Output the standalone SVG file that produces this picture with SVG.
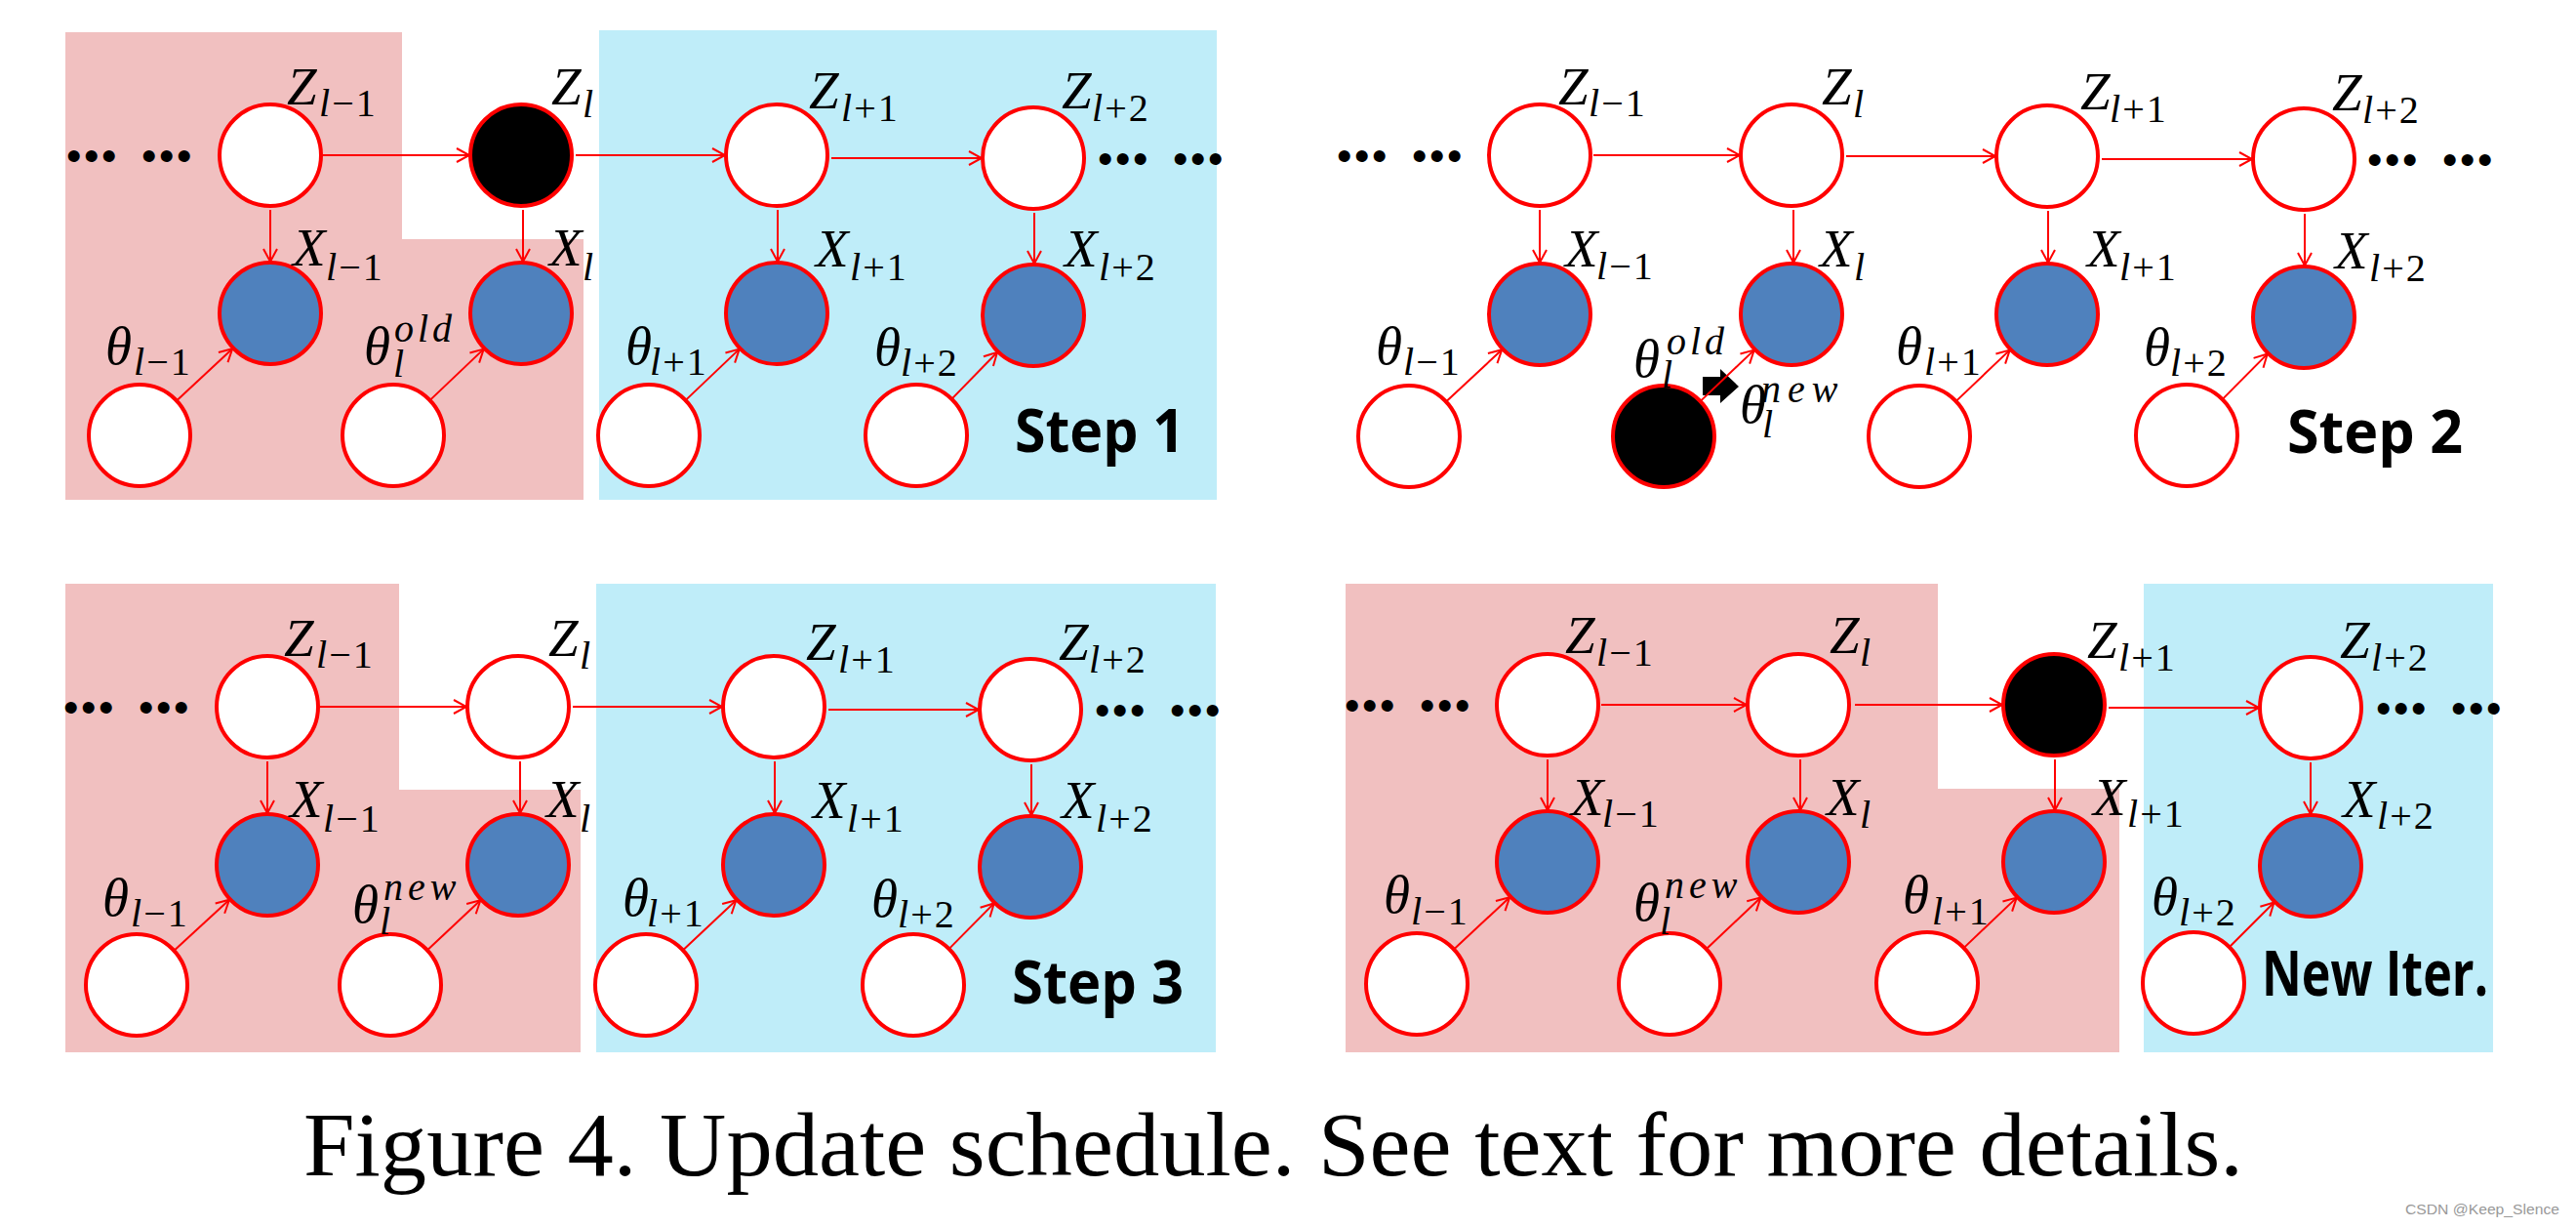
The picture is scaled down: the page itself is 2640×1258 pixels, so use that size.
<svg xmlns="http://www.w3.org/2000/svg" width="2640" height="1258" viewBox="0 0 2640 1258">
<style>
.rp{fill:#F1C0C0}.rc{fill:#BFEDF9}
.n{stroke:#FF0000;stroke-width:4}.w{fill:#FFFFFF}.k{fill:#000000}.b{fill:#4F81BD}
.m{font-family:"Liberation Serif",serif;font-style:italic;font-size:55px;fill:#000}
.s{font-size:40px;font-style:normal;letter-spacing:2px}
.i{font-style:italic}
.sp{font-size:40px;font-style:italic;letter-spacing:4px}
.dots{font-family:"Liberation Sans",sans-serif;font-size:44px;letter-spacing:2.6px;fill:#000}
.step{font-family:"Open Sans","Liberation Sans",sans-serif;font-weight:bold;font-size:60px;fill:#000}
.cap{font-family:"Liberation Serif",serif;font-size:94px;fill:#000}
.wm{font-family:"Liberation Sans",sans-serif;font-size:15px;fill:#999}
.e{stroke:#FF0000;stroke-width:2;fill:none;marker-end:url(#ah)}
</style>
<defs>
<marker id="ah" markerUnits="userSpaceOnUse" markerWidth="16" markerHeight="16" refX="14" refY="8" orient="auto" viewBox="0 0 16 16">
<path d="M1,1 L14,8 L1,15" fill="none" stroke="#FF0000" stroke-width="2"/>
</marker>
</defs>
<rect width="2640" height="1258" fill="#FFFFFF"/>

<g id="regions">
<polygon class="rp" points="67,33 412,33 412,245 598,245 598,512 67,512"/>
<rect class="rc" x="614" y="31" width="633" height="481"/>
<polygon class="rp" points="67,598 409,598 409,809 595,809 595,1078 67,1078"/>
<rect class="rc" x="611" y="598" width="635" height="480"/>
<polygon class="rp" points="1379,598 1986,598 1986,808 2172,808 2172,1078 1379,1078"/>
<rect class="rc" x="2197" y="598" width="358" height="480"/>
</g>

<!-- Panel A: Step 1 -->
<g id="A_Z1"><circle class="n w" cx="277" cy="159" r="52"/><text class="m" x="294" y="107">Z<tspan class="s" x="327" y="119"><tspan class="i">l</tspan>−1</tspan></text></g>
<g id="A_Z2"><circle class="n k" cx="534" cy="159" r="52"/><text class="m" x="565" y="107">Z<tspan class="s i" x="597" y="120">l</tspan></text></g>
<g id="A_Z3"><circle class="n w" cx="796" cy="159" r="52"/><text class="m" x="829" y="111">Z<tspan class="s" x="862" y="124"><tspan class="i">l</tspan>+1</tspan></text></g>
<g id="A_Z4"><circle class="n w" cx="1059" cy="162" r="52"/><text class="m" x="1088" y="111">Z<tspan class="s" x="1119" y="124"><tspan class="i">l</tspan>+2</tspan></text></g>
<g id="A_X1"><circle class="n b" cx="277" cy="321" r="52"/><text class="m" x="300" y="272">X<tspan class="s" x="334" y="287"><tspan class="i">l</tspan>−1</tspan></text></g>
<g id="A_X2"><circle class="n b" cx="534" cy="321" r="52"/><text class="m" x="563" y="272">X<tspan class="s i" x="597" y="287">l</tspan></text></g>
<g id="A_X3"><circle class="n b" cx="796" cy="321" r="52"/><text class="m" x="836" y="273">X<tspan class="s" x="871" y="287"><tspan class="i">l</tspan>+1</tspan></text></g>
<g id="A_X4"><circle class="n b" cx="1059" cy="323" r="52"/><text class="m" x="1091" y="273">X<tspan class="s" x="1126" y="287"><tspan class="i">l</tspan>+2</tspan></text></g>
<g id="A_T1"><circle class="n w" cx="143" cy="446" r="52"/><text class="m" x="108" y="373">θ<tspan class="s" x="137" y="384"><tspan class="i">l</tspan>−1</tspan></text></g>
<g id="A_T2"><circle class="n w" cx="403" cy="446" r="52"/><text class="m" x="373" y="373">θ<tspan class="sp" x="404" y="350">old</tspan><tspan class="s i" x="403" y="386">l</tspan></text></g>
<g id="A_T3"><circle class="n w" cx="665" cy="446" r="52"/><text class="m" x="641" y="373">θ<tspan class="s" x="666" y="384"><tspan class="i">l</tspan>+1</tspan></text></g>
<g id="A_T4"><circle class="n w" cx="939" cy="446" r="52"/><text class="m" x="896" y="374">θ<tspan class="s" x="923" y="385"><tspan class="i">l</tspan>+2</tspan></text></g>
<g id="A_misc">
<text class="dots" x="68" y="175">•••<tspan dx="23">•••</tspan></text>
<text class="dots" x="1125" y="178">•••<tspan dx="23">•••</tspan></text>
<text class="step" x="1040" y="463" textLength="174" lengthAdjust="spacingAndGlyphs">Step 1</text>
</g>

<!-- Panel B: Step 2 -->
<g id="B_Z1"><circle class="n w" cx="1578" cy="159" r="52"/><text class="m" x="1597" y="107">Z<tspan class="s" x="1628" y="119"><tspan class="i">l</tspan>−1</tspan></text></g>
<g id="B_Z2"><circle class="n w" cx="1836" cy="159" r="52"/><text class="m" x="1867" y="107">Z<tspan class="s i" x="1899" y="120">l</tspan></text></g>
<g id="B_Z3"><circle class="n w" cx="2098" cy="160" r="52"/><text class="m" x="2132" y="112">Z<tspan class="s" x="2162" y="125"><tspan class="i">l</tspan>+1</tspan></text></g>
<g id="B_Z4"><circle class="n w" cx="2361" cy="163" r="52"/><text class="m" x="2390" y="113">Z<tspan class="s" x="2421" y="126"><tspan class="i">l</tspan>+2</tspan></text></g>
<g id="B_X1"><circle class="n b" cx="1578" cy="322" r="52"/><text class="m" x="1604" y="273">X<tspan class="s" x="1636" y="286"><tspan class="i">l</tspan>−1</tspan></text></g>
<g id="B_X2"><circle class="n b" cx="1836" cy="322" r="52"/><text class="m" x="1865" y="273">X<tspan class="s i" x="1900" y="287">l</tspan></text></g>
<g id="B_X3"><circle class="n b" cx="2098" cy="322" r="52"/><text class="m" x="2139" y="273">X<tspan class="s" x="2172" y="287"><tspan class="i">l</tspan>+1</tspan></text></g>
<g id="B_X4"><circle class="n b" cx="2361" cy="325" r="52"/><text class="m" x="2393" y="275">X<tspan class="s" x="2428" y="288"><tspan class="i">l</tspan>+2</tspan></text></g>
<g id="B_T1"><circle class="n w" cx="1444" cy="447" r="52"/><text class="m" x="1410" y="373">θ<tspan class="s" x="1438" y="384"><tspan class="i">l</tspan>−1</tspan></text></g>
<g id="B_T2"><circle class="n k" cx="1705" cy="447" r="52"/>
<text class="m" x="1674" y="386">θ<tspan class="sp" x="1708" y="363">old</tspan><tspan class="s i" x="1703" y="397">l</tspan></text>
<text class="m" x="1783" y="433">θ<tspan class="sp" x="1805" y="412" style="letter-spacing:7px">new</tspan><tspan class="s i" x="1806" y="448">l</tspan></text></g>
<g id="B_T3"><circle class="n w" cx="1967" cy="447" r="52"/><text class="m" x="1943" y="373">θ<tspan class="s" x="1972" y="384"><tspan class="i">l</tspan>+1</tspan></text></g>
<g id="B_T4"><circle class="n w" cx="2241" cy="446" r="52"/><text class="m" x="2197" y="374">θ<tspan class="s" x="2224" y="385"><tspan class="i">l</tspan>+2</tspan></text></g>
<g id="B_misc">
<text class="dots" x="1370" y="175">•••<tspan dx="23">•••</tspan></text>
<text class="dots" x="2426" y="179">•••<tspan dx="23">•••</tspan></text>
<polygon points="1745,386 1763,386 1763,378 1782,396 1763,413 1763,405 1745,405" fill="#000"/>
<text class="step" x="2344" y="464" textLength="180" lengthAdjust="spacingAndGlyphs">Step 2</text>
</g>

<!-- Panel C: Step 3 -->
<g id="C_Z1"><circle class="n w" cx="274" cy="724" r="52"/><text class="m" x="291" y="672">Z<tspan class="s" x="324" y="684"><tspan class="i">l</tspan>−1</tspan></text></g>
<g id="C_Z2"><circle class="n w" cx="531" cy="724" r="52"/><text class="m" x="562" y="672">Z<tspan class="s i" x="594" y="685">l</tspan></text></g>
<g id="C_Z3"><circle class="n w" cx="793" cy="724" r="52"/><text class="m" x="826" y="676">Z<tspan class="s" x="859" y="689"><tspan class="i">l</tspan>+1</tspan></text></g>
<g id="C_Z4"><circle class="n w" cx="1056" cy="727" r="52"/><text class="m" x="1085" y="676">Z<tspan class="s" x="1116" y="689"><tspan class="i">l</tspan>+2</tspan></text></g>
<g id="C_X1"><circle class="n b" cx="274" cy="886" r="52"/><text class="m" x="297" y="837">X<tspan class="s" x="331" y="852"><tspan class="i">l</tspan>−1</tspan></text></g>
<g id="C_X2"><circle class="n b" cx="531" cy="886" r="52"/><text class="m" x="560" y="837">X<tspan class="s i" x="594" y="852">l</tspan></text></g>
<g id="C_X3"><circle class="n b" cx="793" cy="886" r="52"/><text class="m" x="833" y="838">X<tspan class="s" x="868" y="852"><tspan class="i">l</tspan>+1</tspan></text></g>
<g id="C_X4"><circle class="n b" cx="1056" cy="888" r="52"/><text class="m" x="1088" y="838">X<tspan class="s" x="1123" y="852"><tspan class="i">l</tspan>+2</tspan></text></g>
<g id="C_T1"><circle class="n w" cx="140" cy="1009" r="52"/><text class="m" x="105" y="938">θ<tspan class="s" x="134" y="949"><tspan class="i">l</tspan>−1</tspan></text></g>
<g id="C_T2"><circle class="n w" cx="400" cy="1009" r="52"/><text class="m" x="361" y="945">θ<tspan class="sp" x="393" y="922" style="letter-spacing:5px">new</tspan><tspan class="s i" x="389" y="957">l</tspan></text></g>
<g id="C_T3"><circle class="n w" cx="662" cy="1009" r="52"/><text class="m" x="638" y="938">θ<tspan class="s" x="663" y="949"><tspan class="i">l</tspan>+1</tspan></text></g>
<g id="C_T4"><circle class="n w" cx="936" cy="1009" r="52"/><text class="m" x="893" y="939">θ<tspan class="s" x="920" y="950"><tspan class="i">l</tspan>+2</tspan></text></g>
<g id="C_misc">
<text class="dots" x="65" y="740">•••<tspan dx="23">•••</tspan></text>
<text class="dots" x="1122" y="743">•••<tspan dx="23">•••</tspan></text>
<text class="step" x="1037" y="1028" textLength="176" lengthAdjust="spacingAndGlyphs">Step 3</text>
</g>

<!-- Panel D: New Iter. -->
<g id="D_Z1"><circle class="n w" cx="1586" cy="722" r="52"/><text class="m" x="1604" y="669">Z<tspan class="s" x="1636" y="682"><tspan class="i">l</tspan>−1</tspan></text></g>
<g id="D_Z2"><circle class="n w" cx="1843" cy="722" r="52"/><text class="m" x="1875" y="669">Z<tspan class="s i" x="1906" y="682">l</tspan></text></g>
<g id="D_Z3"><circle class="n k" cx="2105" cy="722" r="52"/><text class="m" x="2139" y="674">Z<tspan class="s" x="2171" y="687"><tspan class="i">l</tspan>+1</tspan></text></g>
<g id="D_Z4"><circle class="n w" cx="2368" cy="725" r="52"/><text class="m" x="2398" y="674">Z<tspan class="s" x="2430" y="687"><tspan class="i">l</tspan>+2</tspan></text></g>
<g id="D_X1"><circle class="n b" cx="1586" cy="883" r="52"/><text class="m" x="1610" y="835">X<tspan class="s" x="1642" y="847"><tspan class="i">l</tspan>−1</tspan></text></g>
<g id="D_X2"><circle class="n b" cx="1843" cy="883" r="52"/><text class="m" x="1872" y="835">X<tspan class="s i" x="1906" y="848">l</tspan></text></g>
<g id="D_X3"><circle class="n b" cx="2105" cy="883" r="52"/><text class="m" x="2145" y="835">X<tspan class="s" x="2180" y="847"><tspan class="i">l</tspan>+1</tspan></text></g>
<g id="D_X4"><circle class="n b" cx="2368" cy="887" r="52"/><text class="m" x="2401" y="837">X<tspan class="s" x="2436" y="849"><tspan class="i">l</tspan>+2</tspan></text></g>
<g id="D_T1"><circle class="n w" cx="1452" cy="1008" r="52"/><text class="m" x="1418" y="935">θ<tspan class="s" x="1446" y="947"><tspan class="i">l</tspan>−1</tspan></text></g>
<g id="D_T2"><circle class="n w" cx="1711" cy="1008" r="52"/><text class="m" x="1674" y="943">θ<tspan class="sp" x="1706" y="920" style="letter-spacing:5px">new</tspan><tspan class="s i" x="1701" y="957">l</tspan></text></g>
<g id="D_T3"><circle class="n w" cx="1975" cy="1007" r="52"/><text class="m" x="1950" y="935">θ<tspan class="s" x="1980" y="947"><tspan class="i">l</tspan>+1</tspan></text></g>
<g id="D_T4"><circle class="n w" cx="2248" cy="1007" r="52"/><text class="m" x="2205" y="937">θ<tspan class="s" x="2233" y="948"><tspan class="i">l</tspan>+2</tspan></text></g>
<g id="D_misc">
<text class="dots" x="1378" y="738">•••<tspan dx="23">•••</tspan></text>
<text class="dots" x="2435" y="741">•••<tspan dx="23">•••</tspan></text>
<text class="step" x="2318" y="1020" style="font-size:64px" textLength="232" lengthAdjust="spacingAndGlyphs">New Iter.</text>
</g>

<g id="connectors">
<line class="e" x1="331" y1="159" x2="481" y2="159"/>
<line class="e" x1="590" y1="159" x2="743" y2="159"/>
<line class="e" x1="852" y1="162" x2="1006" y2="162"/>
<line class="e" x1="277" y1="215" x2="277" y2="268"/>
<line class="e" x1="536" y1="215" x2="536" y2="268"/>
<line class="e" x1="797" y1="215" x2="797" y2="268"/>
<line class="e" x1="1060" y1="218" x2="1060" y2="270"/>
<line class="e" x1="181.8" y1="409.8" x2="238.2" y2="357.2"/>
<line class="e" x1="441.3" y1="409.4" x2="495.7" y2="357.6"/>
<line class="e" x1="703.3" y1="409.4" x2="757.7" y2="357.6"/>
<line class="e" x1="976" y1="408.1" x2="1022" y2="360.9"/>

<line class="e" x1="1633" y1="159" x2="1783" y2="159"/>
<line class="e" x1="1892" y1="160" x2="2045" y2="160"/>
<line class="e" x1="2154" y1="163" x2="2308" y2="163"/>
<line class="e" x1="1578" y1="215" x2="1578" y2="269"/>
<line class="e" x1="1838" y1="215" x2="1838" y2="269"/>
<line class="e" x1="2099" y1="216" x2="2099" y2="269"/>
<line class="e" x1="2362" y1="219" x2="2362" y2="272"/>
<line class="e" x1="1482.8" y1="410.8" x2="1539.2" y2="358.2"/>
<line class="e" x1="1743.3" y1="410.4" x2="1797.7" y2="358.6"/>
<line class="e" x1="2005.3" y1="410.4" x2="2059.7" y2="358.6"/>
<line class="e" x1="2278.3" y1="408.4" x2="2323.7" y2="362.6"/>

<line class="e" x1="328" y1="724" x2="478" y2="724"/>
<line class="e" x1="587" y1="724" x2="740" y2="724"/>
<line class="e" x1="849" y1="727" x2="1003" y2="727"/>
<line class="e" x1="274" y1="780" x2="274" y2="833"/>
<line class="e" x1="533" y1="780" x2="533" y2="833"/>
<line class="e" x1="794" y1="780" x2="794" y2="833"/>
<line class="e" x1="1057" y1="783" x2="1057" y2="835"/>
<line class="e" x1="179" y1="973.2" x2="235" y2="921.8"/>
<line class="e" x1="438.6" y1="972.7" x2="492.4" y2="922.3"/>
<line class="e" x1="700.6" y1="972.7" x2="754.4" y2="922.3"/>
<line class="e" x1="973.3" y1="971.4" x2="1018.7" y2="925.4"/>

<line class="e" x1="1641" y1="722" x2="1790" y2="722"/>
<line class="e" x1="1901" y1="722" x2="2052" y2="722"/>
<line class="e" x1="2161" y1="725" x2="2315" y2="725"/>
<line class="e" x1="1586" y1="778" x2="1586" y2="830"/>
<line class="e" x1="1845" y1="778" x2="1845" y2="830"/>
<line class="e" x1="2106" y1="778" x2="2106" y2="830"/>
<line class="e" x1="2368" y1="781" x2="2368" y2="834"/>
<line class="e" x1="1490.8" y1="971.8" x2="1547.2" y2="919.2"/>
<line class="e" x1="1749.5" y1="971.6" x2="1804.5" y2="919.4"/>
<line class="e" x1="2013.3" y1="970.4" x2="2066.7" y2="919.6"/>
<line class="e" x1="2285.5" y1="969.5" x2="2330.5" y2="924.5"/>
</g>

<text class="cap" x="311" y="1204" textLength="1988" lengthAdjust="spacingAndGlyphs">Figure 4. Update schedule. See text for more details.</text>
<text class="wm" x="2465" y="1244" textLength="158" lengthAdjust="spacingAndGlyphs">CSDN @Keep_Slence</text>
</svg>
